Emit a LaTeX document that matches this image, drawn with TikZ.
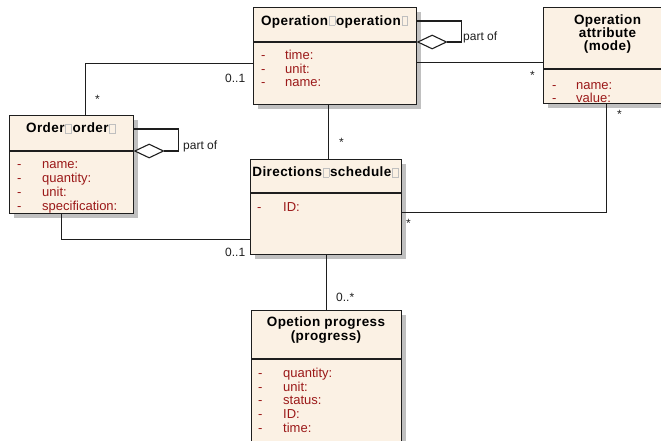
\documentclass[tikz,border=0pt]{standalone}
\usepackage{fontspec}
\setmainfont{Liberation Sans}
\usetikzlibrary{shapes.geometric,shadows}
\definecolor{clsfill}{RGB}{251,241,228}
\definecolor{attrred}{RGB}{155,25,25}
\definecolor{shadowgray}{RGB}{192,192,192}
\definecolor{linegray}{RGB}{30,30,30}
% hollow placeholder box standing in for the unrenderable brackets in class names
\newcommand\tofu{\hspace{0.8pt}{\color{gray!50}\setlength\fboxsep{0pt}\setlength\fboxrule{0.7pt}\fbox{\rule{0pt}{8.5pt}\hspace{5pt}}}\hspace{0.8pt}}
\begin{document}
\begin{tikzpicture}[x=1pt,y=-1pt,
  cls/.style={draw=linegray, line width=1.1pt, fill=clsfill, inner sep=0pt, anchor=north west,
    drop shadow={shadow xshift=4pt, shadow yshift=-4pt, fill=shadowgray, opacity=1}},
  sep/.style={draw=linegray, line width=1.1pt},
  title/.style={font=\fontsize{13.5}{15}\selectfont\bfseries\addfontfeature{LetterSpace=3}, inner sep=0pt, anchor=base},
  attr/.style={font=\fontsize{13}{14}\selectfont, text=attrred, inner sep=0pt, anchor=base west},
  lbl/.style={font=\fontsize{12}{14}\selectfont, text=linegray, inner sep=0pt, anchor=base west},
  conn/.style={draw=linegray, line width=1.1pt},
  agg/.style={diamond, draw=linegray, line width=1.1pt, fill=white, inner sep=0pt,
    minimum width=29pt, minimum height=14pt, anchor=west}]
\useasboundingbox (0,0) rectangle (661,440);

% class boxes
\node[cls, minimum width=163pt, minimum height=97pt] (op) at (253,7) {};
\node[cls, minimum width=130pt, minimum height=96pt] (att) at (543,7) {};
\node[cls, minimum width=124pt, minimum height=98pt] (ord) at (9,115) {};
\node[cls, minimum width=151pt, minimum height=95pt] (dir) at (250,159) {};
\node[cls, minimum width=150pt, minimum height=150pt] (prg) at (251,310) {};

% header separators
\draw[sep] ([yshift=-35pt]op.north west) -- ([yshift=-35pt]op.north east);
\draw[sep] ([yshift=-62pt]att.north west) -- ([yshift=-62pt]att.north east);
\draw[sep] ([yshift=-36pt]ord.north west) -- ([yshift=-36pt]ord.north east);
\draw[sep] ([yshift=-34pt]dir.north west) -- ([yshift=-34pt]dir.north east);
\draw[sep] ([yshift=-49pt]prg.north west) -- ([yshift=-49pt]prg.north east);

% class names
\node[title] (op-t) at (334.5,25) {Operation\tofu operation\tofu};
\node[title] (att-t1) at (607.5,24) {Operation};
\node[title] (att-t2) at (607.5,37.3) {attribute};
\node[title] (att-t3) at (607.5,50) {(mode)};
\node[title] (ord-t) at (71,132.7) {Order\tofu order\tofu};
\node[title] (dir-t) at (325.5,176.7) {Directions\tofu schedule\tofu};
\node[title] (prg-t1) at (326,326.5) {Opetion progress};
\node[title] (prg-t2) at (326,340) {(progress)};

% attributes
\foreach \t [count=\i] in {time:,unit:,name:} {
  \node[attr] (op-d\i) at (261,{59.3+13.7*(\i-1)}) {-};
  \node[attr] (op-a\i) at (285,{59.3+13.7*(\i-1)}) {\t};
}
\foreach \t [count=\i] in {name:,value:} {
  \node[attr] (att-d\i) at (552,{89.3+13*(\i-1)}) {-};
  \node[attr] (att-a\i) at (576,{89.3+13*(\i-1)}) {\t};
}
\foreach \t [count=\i] in {name:,quantity:,unit:,specification:} {
  \node[attr] (ord-d\i) at (17,{168.5+14*(\i-1)}) {-};
  \node[attr] (ord-a\i) at (42,{168.5+14*(\i-1)}) {\t};
}
\node[attr] (dir-d1) at (257,211) {-};
\node[attr] (dir-a1) at (283,211) {ID:};
\foreach \t [count=\i] in {quantity:,unit:,status:,ID:,time:} {
  \node[attr] (prg-d\i) at (258,{377.3+13.75*(\i-1)}) {-};
  \node[attr] (prg-a\i) at (283,{377.3+13.75*(\i-1)}) {\t};
}

% associations
\draw[conn] ([xshift=14pt]ord.north) |- ([yshift=-7.5pt]op.west);
\draw[conn] ([yshift=-6.5pt]op.east) -- ([yshift=-6.5pt]op.east -| att.west);
\draw[conn] ([xshift=-6.5pt]op.south) -- ([xshift=-6.5pt]op.south |- dir.north);
\draw[conn] ([xshift=-2pt]att.south) |- ([yshift=-5.5pt]dir.east);
\draw[conn] ([xshift=-10pt]ord.south) |- ([yshift=-32.5pt]dir.west);
\draw[conn] (dir.south) -- (dir.south |- prg.north);

% self aggregations
\node[agg] (op-agg) at ([yshift=-35pt]op.north east) {};
\draw[conn] ([yshift=-14pt]op.north east) -| ([xshift=14pt]op-agg.east) -- (op-agg.east);
\node[agg] (ord-agg) at ([yshift=-36pt]ord.north east) {};
\draw[conn] ([yshift=-14pt]ord.north east) -| ([xshift=14pt]ord-agg.east) -- (ord-agg.east);

% role labels
\node[lbl] (l-op-part) at (463,40.7) {part of};
\node[lbl] (l-ord-part) at (183,149.3) {part of};
\node[lbl] (l-op-ord) at (225,82) {0..1};
\node[lbl] (l-ord-op) at (95,103) {*};
\node[lbl] (l-att-op) at (530,79) {*};
\node[lbl] (l-dir-op) at (339,146) {*};
\node[lbl] (l-dir-att) at (617,118) {*};
\node[lbl] (l-att-dir) at (406,227) {*};
\node[lbl] (l-dir-ord) at (225,256) {0..1};
\node[lbl] (l-prg) at (336,301.7) {0..*};
\end{tikzpicture}
\end{document}
